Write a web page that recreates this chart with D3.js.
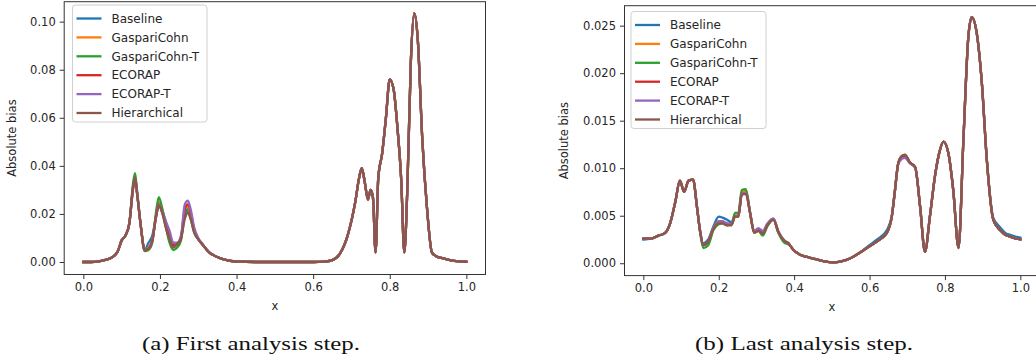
<!DOCTYPE html>
<html><head><meta charset="utf-8">
<script src="https://cdn.jsdelivr.net/npm/d3@7"></script>
<style>html,body{margin:0;padding:0;background:#fff;}svg{display:block;}</style>
</head><body>
<svg id="chart" width="1036" height="362"></svg>
<script>
// ---------- DATA ----------
const seriesNames = ["Baseline","GaspariCohn","GaspariCohn-T","ECORAP","ECORAP-T","Hierarchical"];
const seriesColors = ["#1f77b4","#ff7f0e","#2ca02c","#d62728","#9467bd","#8c564b"];
const xTicks = [0.0,0.2,0.4,0.6,0.8,1.0];
const leftYTicks = [0.00,0.02,0.04,0.06,0.08,0.10];
const rightYTicks = [0.000,0.005,0.010,0.015,0.020,0.025];
const yLabel = "Absolute bias";
const xLabel = "x";
const captions = ["(a) First analysis step.","(b) Last analysis step."];

// Left panel: first analysis step
const leftX = [0,0.02,0.04,0.06,0.07,0.08,0.09,0.1,0.11,0.12,0.13,0.135,0.14,0.15,0.16,0.17,0.18,0.19,0.197,0.205,0.215,0.225,0.235,0.245,0.255,0.265,0.273,0.28,0.29,0.3,0.31,0.32,0.33,0.34,0.36,0.38,0.4,0.45,0.5,0.55,0.6,0.63,0.65,0.67,0.69,0.71,0.72,0.727,0.735,0.743,0.75,0.756,0.763,0.77,0.78,0.79,0.8,0.81,0.82,0.83,0.838,0.846,0.855,0.864,0.873,0.885,0.897,0.91,0.92,0.94,0.96,0.98,1.0];
const leftBaseline =     [0,0,0.0003,0.001,0.0015,0.0025,0.0045,0.009,0.011,0.016,0.031,0.035,0.029,0.015,0.005,0.008,0.011,0.019,0.024,0.022,0.017,0.011,0.007,0.007,0.01,0.02,0.022,0.019,0.0125,0.0095,0.0075,0.0055,0.0038,0.0028,0.0014,0.0006,0.0002,0,0,0,0,0.0002,0.0008,0.0035,0.011,0.025,0.035,0.039,0.033,0.026,0.03,0.027,0.004,0.035,0.045,0.06,0.076,0.072,0.056,0.034,0.004,0.031,0.083,0.1035,0.093,0.051,0.023,0.004,0.0025,0.0015,0.0007,0.0003,0.0001];
const leftGC =           [0,0,0.0003,0.001,0.0015,0.0025,0.0045,0.009,0.011,0.016,0.032,0.0355,0.029,0.015,0.005,0.006,0.009,0.02,0.025,0.022,0.015,0.009,0.007,0.007,0.01,0.022,0.023,0.02,0.013,0.0095,0.0075,0.0055,0.0038,0.0028,0.0014,0.0006,0.0002,0,0,0,0,0.0002,0.0008,0.0035,0.011,0.025,0.035,0.039,0.033,0.026,0.03,0.027,0.004,0.035,0.045,0.06,0.076,0.072,0.056,0.034,0.004,0.031,0.083,0.1035,0.093,0.051,0.023,0.004,0.0025,0.0015,0.0007,0.0003,0.0001];
const leftGCT =          [0,0,0.0003,0.001,0.0015,0.0025,0.0045,0.009,0.011,0.016,0.033,0.037,0.03,0.015,0.0045,0.005,0.008,0.021,0.027,0.023,0.015,0.008,0.005,0.006,0.009,0.019,0.021,0.018,0.012,0.0095,0.0075,0.0055,0.0038,0.0028,0.0014,0.0006,0.0002,0,0,0,0,0.0002,0.0008,0.0035,0.011,0.025,0.035,0.039,0.033,0.026,0.03,0.027,0.004,0.035,0.045,0.06,0.076,0.072,0.056,0.034,0.004,0.031,0.083,0.1035,0.093,0.051,0.023,0.004,0.0025,0.0015,0.0007,0.0003,0.0001];
const leftEC =           [0,0,0.0003,0.001,0.0015,0.0025,0.0045,0.009,0.011,0.016,0.031,0.035,0.029,0.015,0.005,0.0055,0.009,0.019,0.024,0.021,0.016,0.011,0.007,0.0075,0.01,0.022,0.024,0.021,0.013,0.0095,0.0075,0.0055,0.0038,0.0028,0.0014,0.0006,0.0002,0,0,0,0,0.0002,0.0008,0.0035,0.011,0.025,0.035,0.039,0.033,0.026,0.03,0.027,0.004,0.035,0.045,0.06,0.076,0.072,0.056,0.034,0.004,0.031,0.083,0.1035,0.093,0.051,0.023,0.004,0.0025,0.0015,0.0007,0.0003,0.0001];
const leftECT =          [0,0,0.0003,0.001,0.0015,0.0025,0.0045,0.009,0.011,0.016,0.031,0.035,0.029,0.015,0.005,0.0055,0.009,0.019,0.024,0.021,0.017,0.013,0.008,0.008,0.011,0.024,0.0255,0.022,0.014,0.01,0.0078,0.0056,0.0038,0.0028,0.0014,0.0006,0.0002,0,0,0,0,0.0002,0.0008,0.0035,0.011,0.025,0.035,0.039,0.033,0.026,0.03,0.027,0.004,0.035,0.045,0.06,0.076,0.072,0.056,0.034,0.004,0.031,0.083,0.1035,0.093,0.051,0.023,0.004,0.0025,0.0015,0.0007,0.0003,0.0001];
const leftHier =         [0,0,0.0003,0.001,0.0015,0.0025,0.0045,0.009,0.011,0.016,0.031,0.035,0.029,0.015,0.005,0.0055,0.009,0.019,0.0235,0.021,0.0145,0.0095,0.006,0.0075,0.01,0.018,0.0205,0.018,0.012,0.0095,0.0075,0.0055,0.0038,0.0028,0.0014,0.0006,0.0002,0,0,0,0,0.0002,0.0008,0.0035,0.011,0.025,0.035,0.039,0.033,0.026,0.03,0.027,0.004,0.035,0.045,0.06,0.076,0.072,0.056,0.034,0.004,0.031,0.083,0.1035,0.093,0.051,0.023,0.004,0.0025,0.0015,0.0007,0.0003,0.0001];

// Right panel: last analysis step
const rightX = [0,0.02,0.04,0.058,0.071,0.085,0.097,0.108,0.12,0.132,0.142,0.15,0.159,0.172,0.186,0.2,0.21,0.221,0.234,0.243,0.252,0.261,0.272,0.283,0.294,0.305,0.317,0.329,0.345,0.358,0.376,0.385,0.398,0.416,0.44,0.46,0.48,0.504,0.525,0.548,0.57,0.593,0.62,0.646,0.659,0.667,0.676,0.686,0.694,0.707,0.721,0.734,0.747,0.76,0.774,0.786,0.796,0.809,0.822,0.836,0.849,0.862,0.871,0.884,0.898,0.911,0.928,0.946,0.96,0.973,0.987,1.0];
const rightBaseline = [0.0025,0.0026,0.0029,0.0032,0.0042,0.0065,0.0087,0.0075,0.0087,0.0088,0.006,0.0036,0.0021,0.0025,0.0039,0.0049,0.0048,0.0046,0.0043,0.005,0.005,0.0073,0.0074,0.0053,0.0033,0.0035,0.0032,0.004,0.0046,0.0033,0.0023,0.0021,0.0014,0.0009,0.0006,0.0004,0.0002,0.0001,0.0002,0.0005,0.001,0.0017,0.0025,0.0035,0.005,0.0076,0.0105,0.0113,0.0114,0.0106,0.0101,0.006,0.0012,0.0049,0.0093,0.0118,0.0128,0.0116,0.0077,0.0016,0.013,0.0238,0.0259,0.0243,0.0189,0.011,0.0048,0.0038,0.0032,0.003,0.0028,0.0027];
const rightGC =       [0.0026,0.0026,0.0029,0.0032,0.0042,0.0065,0.0087,0.0075,0.0087,0.0088,0.006,0.0035,0.0019,0.0023,0.0037,0.0044,0.0044,0.0041,0.0041,0.005,0.005,0.0075,0.0076,0.0053,0.0032,0.0034,0.0031,0.004,0.0046,0.0033,0.0023,0.0021,0.0014,0.0009,0.0006,0.0004,0.0002,0.0001,0.0002,0.0005,0.001,0.0016,0.0023,0.0032,0.0049,0.0075,0.0105,0.0113,0.0114,0.0106,0.0101,0.006,0.0012,0.0049,0.0093,0.0118,0.0128,0.0116,0.0077,0.0016,0.013,0.0238,0.0259,0.0243,0.0189,0.0109,0.0046,0.0035,0.003,0.0028,0.0026,0.0025];
const rightGCT =      [0.0026,0.0026,0.0029,0.0032,0.0042,0.0065,0.0087,0.0075,0.0087,0.0088,0.006,0.0034,0.0016,0.0019,0.0035,0.0041,0.0042,0.004,0.0041,0.0053,0.0053,0.0077,0.0078,0.0054,0.0032,0.0034,0.0029,0.0039,0.0046,0.0032,0.0021,0.002,0.0014,0.0009,0.0006,0.0004,0.0002,0.0001,0.0002,0.0005,0.001,0.0016,0.0023,0.0032,0.0049,0.0075,0.0105,0.0113,0.0114,0.0106,0.0101,0.006,0.0012,0.0049,0.0093,0.0118,0.0128,0.0116,0.0077,0.0016,0.013,0.0238,0.0259,0.0243,0.0189,0.0109,0.0046,0.0035,0.003,0.0028,0.0026,0.0025];
const rightEC =       [0.0026,0.0026,0.0029,0.0032,0.0042,0.0065,0.0087,0.0075,0.0087,0.0088,0.006,0.0035,0.0019,0.0023,0.0037,0.0044,0.0044,0.0042,0.0041,0.0049,0.0049,0.0073,0.0074,0.0053,0.0033,0.0035,0.0032,0.0041,0.0047,0.0033,0.0023,0.0021,0.0014,0.0009,0.0006,0.0004,0.0002,0.0001,0.0002,0.0005,0.001,0.0016,0.0023,0.0032,0.0049,0.0075,0.0105,0.0112,0.0112,0.0106,0.0101,0.006,0.0012,0.0049,0.0093,0.0118,0.0128,0.0116,0.0077,0.0016,0.013,0.0238,0.0259,0.0243,0.0189,0.0109,0.0046,0.0035,0.003,0.0028,0.0026,0.0025];
const rightECT =      [0.0026,0.0026,0.0029,0.0032,0.0042,0.0065,0.0087,0.0075,0.0087,0.0088,0.006,0.0035,0.0019,0.0023,0.0037,0.0044,0.0044,0.0042,0.0041,0.0049,0.0049,0.0073,0.0074,0.0054,0.0034,0.0037,0.0034,0.0042,0.0047,0.0034,0.0023,0.0021,0.0014,0.0009,0.0006,0.0004,0.0002,0.0001,0.0002,0.0005,0.001,0.0016,0.0023,0.0032,0.0049,0.0075,0.0104,0.011,0.0111,0.0105,0.0101,0.006,0.0012,0.0049,0.0093,0.0118,0.0128,0.0116,0.0077,0.0016,0.013,0.0238,0.0259,0.0243,0.0189,0.0109,0.0046,0.0035,0.003,0.0028,0.0026,0.0025];
const rightHier =     [0.0026,0.0026,0.0029,0.0032,0.0042,0.0065,0.0087,0.0075,0.0087,0.0088,0.006,0.0035,0.0019,0.0023,0.0036,0.0042,0.0042,0.004,0.004,0.0049,0.0049,0.0072,0.0073,0.0053,0.0032,0.0034,0.0031,0.004,0.0046,0.0033,0.0023,0.0021,0.0014,0.0009,0.0006,0.0004,0.0002,0.0001,0.0002,0.0005,0.001,0.0016,0.0023,0.0032,0.0049,0.0075,0.0105,0.0113,0.0114,0.0106,0.0101,0.006,0.0012,0.0049,0.0093,0.0118,0.0128,0.0116,0.0077,0.0016,0.013,0.0238,0.0259,0.0243,0.0189,0.0109,0.0046,0.0035,0.003,0.0028,0.0026,0.0025];

const leftSeries = [leftBaseline,leftGC,leftGCT,leftEC,leftECT,leftHier];
const rightSeries = [rightBaseline,rightGC,rightGCT,rightEC,rightECT,rightHier];

// ---------- DRAW ----------
const svg = d3.select("#chart");
const FONT = "DejaVu Sans, sans-serif";
const TXT = "#262626";

function panel(cfg) {
  const x = d3.scaleLinear().domain([-0.05, 1.05]).range([cfg.x0, cfg.x1]);
  const y = d3.scaleLinear().domain(cfg.yDomain).range([cfg.yb, cfg.yt]);
  const g = svg.append("g");

  // lines
  const line = d3.line().curve(d3.curveMonotoneX).x((d,i) => x(cfg.xs[i])).y(d => y(d));
  cfg.series.forEach((s, k) => {
    g.append("path").datum(s)
      .attr("d", line)
      .attr("fill", "none")
      .attr("stroke", seriesColors[k])
      .attr("stroke-width", 2.3)
      .attr("stroke-linejoin", "round")
      .attr("stroke-linecap", "square");
  });

  // axes
  const xAxis = d3.axisBottom(x).tickValues(xTicks).tickFormat(d3.format(".1f")).tickSize(4.5).tickPadding(4);
  const yAxis = d3.axisLeft(y).tickValues(cfg.yTicks).tickFormat(d3.format(cfg.yFmt)).tickSize(4.5).tickPadding(4);
  const gx = g.append("g").attr("transform", `translate(0,${cfg.yb})`).call(xAxis);
  const gy = g.append("g").attr("transform", `translate(${cfg.x0},0)`).call(yAxis);
  [gx, gy].forEach(a => {
    a.select(".domain").remove();
    a.selectAll(".tick line").attr("stroke", "#333").attr("stroke-width", 1);
    a.selectAll(".tick text").attr("font-family", FONT).attr("font-size", 11.5).attr("fill", TXT);
  });

  // spines
  g.append("rect")
    .attr("x", cfg.x0).attr("y", cfg.yt)
    .attr("width", cfg.x1 - cfg.x0).attr("height", cfg.yb - cfg.yt)
    .attr("fill", "none").attr("stroke", "#333").attr("stroke-width", 1);

  // axis labels
  g.append("text").text(xLabel)
    .attr("x", (cfg.x0 + cfg.x1) / 2).attr("y", cfg.yb + 35)
    .attr("text-anchor", "middle").attr("font-family", FONT).attr("font-size", 11.5).attr("fill", TXT);
  g.append("text").text(yLabel)
    .attr("transform", `translate(${cfg.ylabX},${(cfg.yt + cfg.yb) / 2}) rotate(-90)`)
    .attr("text-anchor", "middle").attr("font-family", FONT).attr("font-size", 11.5).attr("fill", TXT);

  // legend
  const lg = g.append("g").attr("transform", `translate(${cfg.lx},${cfg.ly})`);
  lg.append("rect").attr("x", 0).attr("y", 0).attr("width", cfg.lw).attr("height", 117)
    .attr("rx", 3).attr("fill", "#fff").attr("fill-opacity", 0.8)
    .attr("stroke", "#d0d0d0").attr("stroke-width", 1);
  seriesNames.forEach((n, k) => {
    const yy = 13.5 + k * 18.9;
    lg.append("line").attr("x1", 4).attr("x2", 29).attr("y1", yy).attr("y2", yy)
      .attr("stroke", seriesColors[k]).attr("stroke-width", 2.3);
    lg.append("text").text(n).attr("x", 39).attr("y", yy).attr("dy", "0.35em")
      .attr("font-family", FONT).attr("font-size", 12).attr("fill", TXT);
  });

  // caption
  svg.append("text").text(cfg.caption)
    .attr("x", cfg.capX).attr("y", 350)
    .attr("text-anchor", "middle")
    .attr("font-family", "Liberation Serif, DejaVu Serif, serif")
    .attr("font-size", 18.5).attr("fill", "#111")
    .attr("textLength", cfg.capW).attr("lengthAdjust", "spacingAndGlyphs");
}

panel({
  xs: leftX, series: leftSeries,
  x0: 64.2, x1: 485.5, yt: 1.7, yb: 274.5,
  yDomain: [-0.0052, 0.1083], yTicks: leftYTicks, yFmt: ".2f",
  ylabX: 16, lx: 72.5, ly: 5, lw: 134.5,
  caption: captions[0], capX: 251, capW: 218
});
panel({
  xs: rightX, series: rightSeries,
  x0: 624.5, x1: 1039.2, yt: 5.7, yb: 275.6,
  yDomain: [-0.0013, 0.0271], yTicks: rightYTicks, yFmt: ".3f",
  ylabX: 568, lx: 631, ly: 11.5, lw: 135,
  caption: captions[1], capX: 804, capW: 218
});
</script>
</body></html>
